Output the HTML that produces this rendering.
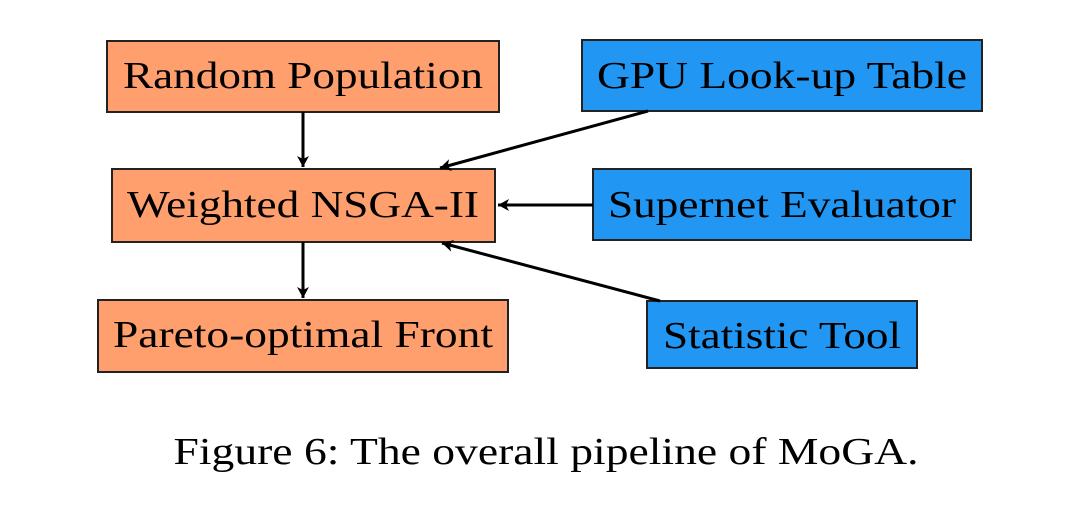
<!DOCTYPE html>
<html><head><meta charset="utf-8"><style>
html,body{margin:0;padding:0;background:#fff;}
svg{display:block;}
text{font-family:"Liberation Serif",serif;fill:#000;}
</style></head><body>
<svg width="1080" height="514" viewBox="0 0 1080 514" xmlns="http://www.w3.org/2000/svg">
<defs>
<marker id="a" markerWidth="14" markerHeight="14" refX="12" refY="7" orient="auto" markerUnits="userSpaceOnUse">
<path d="M1,1 L12,7 L1,13 L4,7 Z" fill="#000"/>
</marker>
</defs>
<g stroke="#222" stroke-width="2">
<rect x="107" y="41" width="392" height="71" fill="#FF9F6E"/>
<rect x="112" y="169" width="383" height="73" fill="#FF9F6E"/>
<rect x="98" y="300" width="410" height="72" fill="#FF9F6E"/>
<rect x="582" y="40" width="400" height="71" fill="#2196F3"/>
<rect x="593" y="169" width="378" height="71" fill="#2196F3"/>
<rect x="647" y="301" width="270" height="67" fill="#2196F3"/>
</g>
<g stroke="#000" stroke-width="3" fill="none">
<line x1="303" y1="112" x2="303" y2="167" marker-end="url(#a)"/>
<line x1="303" y1="242" x2="303" y2="298" marker-end="url(#a)"/>
<line x1="648" y1="111" x2="440" y2="168" marker-end="url(#a)"/>
<line x1="593" y1="205" x2="498" y2="205" marker-end="url(#a)"/>
<line x1="660" y1="301" x2="442" y2="243" marker-end="url(#a)"/>
</g>
<g font-size="38">
<text x="303" y="88" text-anchor="middle" textLength="360" lengthAdjust="spacingAndGlyphs">Random Population</text>
<text x="303" y="217" text-anchor="middle" textLength="352" lengthAdjust="spacingAndGlyphs">Weighted NSGA-II</text>
<text x="303" y="347" text-anchor="middle" textLength="380" lengthAdjust="spacingAndGlyphs">Pareto-optimal Front</text>
<text x="782" y="88" text-anchor="middle" textLength="370" lengthAdjust="spacingAndGlyphs">GPU Look-up Table</text>
<text x="782" y="217" text-anchor="middle" textLength="348" lengthAdjust="spacingAndGlyphs">Supernet Evaluator</text>
<text x="782" y="348" text-anchor="middle" textLength="238" lengthAdjust="spacingAndGlyphs">Statistic Tool</text>
<text x="546" y="464" text-anchor="middle" textLength="745" lengthAdjust="spacingAndGlyphs">Figure 6: The overall pipeline of MoGA.</text>
</g>
</svg>
</body></html>
